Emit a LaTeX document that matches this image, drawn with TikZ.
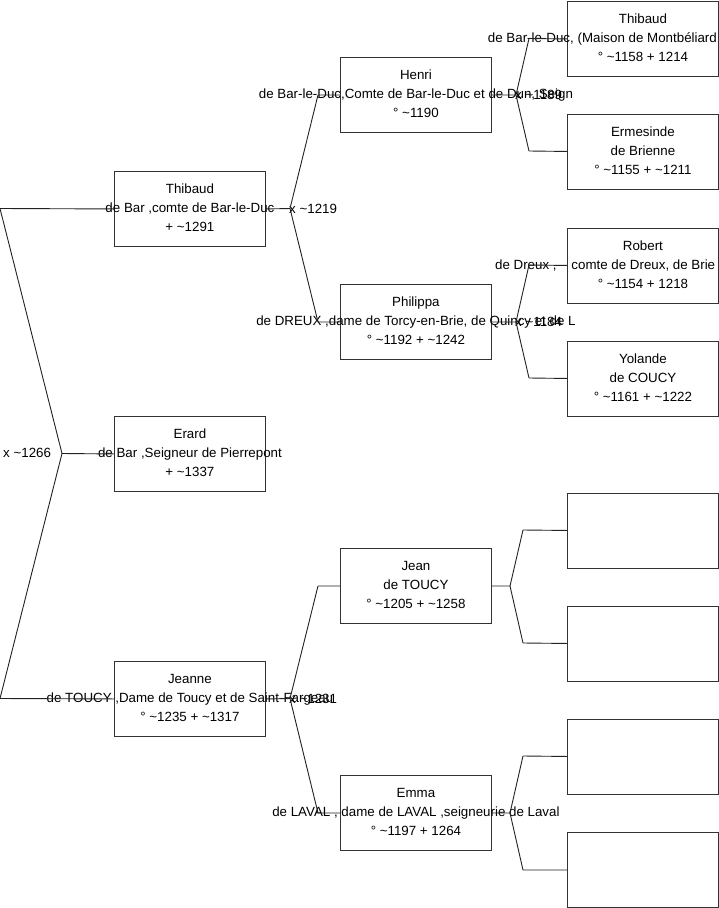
\documentclass[tikz,border=0pt]{standalone}
\usepackage{fontspec}
\setmainfont{Liberation Sans}
\definecolor{boxgray}{HTML}{333333}
\definecolor{linegray}{HTML}{222222}
\begin{document}
\begin{tikzpicture}[x=1pt,y=-1pt,
  personbox/.style={draw=boxgray, line width=0.9pt, minimum width=151pt, minimum height=75pt, inner sep=0pt, anchor=north west},
  persontext/.style={align=center, inner sep=0pt, yshift=1pt, font=\fontsize{13.33}{19}\selectfont},
  marriage/.style={anchor=west, inner sep=0pt, font=\fontsize{13.33}{16}\selectfont},
  link/.style={draw=linegray, line width=0.9pt}]
\useasboundingbox[fill=white] (0,0) rectangle (719,908);

% boxes
\node[personbox] (A) at (114,171) {};
\node[personbox] (B) at (114,416) {};
\node[personbox] (C) at (114,661) {};
\node[personbox] (D) at (340,57) {};
\node[personbox] (E) at (340,284) {};
\node[personbox] (F) at (340,548) {};
\node[personbox] (G) at (340,775) {};
\node[personbox] (H) at (567,1) {};
\node[personbox] (I) at (567,113.5) {};
\node[personbox] (J) at (567,227.5) {};
\node[personbox] (K) at (567,340.5) {};
\node[personbox] (L) at (567,492.5) {};
\node[personbox] (M) at (567,605.5) {};
\node[personbox] (N) at (567,718.5) {};
\node[personbox] (O) at (567,832) {};

% texts
\node[persontext] (At) at (A.center) {Thibaud\\de Bar ,comte de Bar-le-Duc\\+ \textasciitilde1291};
\node[persontext] (Bt) at (B.center) {Erard\\de Bar ,Seigneur de Pierrepont\\+ \textasciitilde1337};
\node[persontext] (Ct) at (C.center) {Jeanne\\de TOUCY ,Dame de Toucy et de Saint-Fargeau\\° \textasciitilde1235 + \textasciitilde1317};
\node[persontext] (Dt) at (D.center) {Henri\\de Bar-le-Duc,Comte de Bar-le-Duc et de Dun, Seign\\° \textasciitilde1190};
\node[persontext] (Et) at (E.center) {Philippa\\de DREUX ,dame de Torcy-en-Brie, de Quincy et de L\\° \textasciitilde1192 + \textasciitilde1242};
\node[persontext] (Ft) at (F.center) {Jean\\de TOUCY\\° \textasciitilde1205 + \textasciitilde1258};
\node[persontext] (Gt) at (G.center) {Emma\\de LAVAL , dame de LAVAL ,seigneurie de Laval\\° \textasciitilde1197 + 1264};
\node[persontext] (Ht) at (H.center) {Thibaud\\\makebox[310pt][l]{de Bar-le-Duc, (Maison de Montbéliard}\\° \textasciitilde1158 + 1214};
\node[persontext] (It) at (I.center) {Ermesinde\\de Brienne\\° \textasciitilde1155 + \textasciitilde1211};
\node[persontext] (Jt) at (J.center) {Robert\\de Dreux ,\ \ \ \ comte de Dreux, de Brie et de Braine\\° \textasciitilde1154 + 1218};
\node[persontext] (Kt) at (K.center) {Yolande\\de COUCY\\° \textasciitilde1161 + \textasciitilde1222};

% marriage labels
\node[marriage] (m0) at (3,453) {x \textasciitilde1266};
\node[marriage] (m1) at (289,208.5) {x \textasciitilde1219};
\node[marriage] (m2) at (515,95) {x \textasciitilde1189};
\node[marriage] (m3) at (515,322) {x \textasciitilde1184};
\node[marriage] (m4) at (289,698.5) {x \textasciitilde1231};

% fork coordinates
\coordinate (r1) at (0,208.5);
\coordinate (r2) at (0,698.5);
\coordinate (f0) at (62,453.5);
\coordinate (f1) at (290,208.5);
\coordinate (d1) at (318,95);
\coordinate (e1) at (318,322);
\coordinate (f2) at (516,95);
\coordinate (h1) at (529,38.5);
\coordinate (i1) at (529,151);
\coordinate (f3) at (516,322);
\coordinate (j1) at (529,265);
\coordinate (k1) at (529,378);
\coordinate (f4) at (290,698.5);
\coordinate (p1) at (318,586);
\coordinate (g1) at (318,813);
\coordinate (f5) at (510,586);
\coordinate (l1) at (523,530);
\coordinate (n1) at (523,643);
\coordinate (f6) at (510,813);
\coordinate (q1) at (523,756);
\coordinate (o1) at (523,870);

% connectors
\draw[link] (r1) -- (A.west);
\draw[link] (r1) -- (f0) -- (r2) -- (C.west);
\draw[link] (f0) -- (B.west);
\draw[link] (A.east) -- (f1);
\draw[link] (d1) -- (f1) -- (e1);
\draw[link] (d1) -- (D.west);
\draw[link] (e1) -- (E.west);
\draw[link] (D.east) -- (f2);
\draw[link] (h1) -- (f2) -- (i1);
\draw[link] (h1) -- (H.west);
\draw[link] (i1) -- (I.west);
\draw[link] (E.east) -- (f3);
\draw[link] (j1) -- (f3) -- (k1);
\draw[link] (j1) -- (J.west);
\draw[link] (k1) -- (K.west);
\draw[link] (C.east) -- (f4);
\draw[link] (p1) -- (f4) -- (g1);
\draw[link] (p1) -- (F.west);
\draw[link] (g1) -- (G.west);
\draw[link] (F.east) -- (f5);
\draw[link] (l1) -- (f5) -- (n1);
\draw[link] (l1) -- (L.west);
\draw[link] (n1) -- (M.west);
\draw[link] (G.east) -- (f6);
\draw[link] (q1) -- (f6) -- (o1);
\draw[link] (q1) -- (N.west);
\draw[link] (o1) -- (O.west);
\end{tikzpicture}
\end{document}
